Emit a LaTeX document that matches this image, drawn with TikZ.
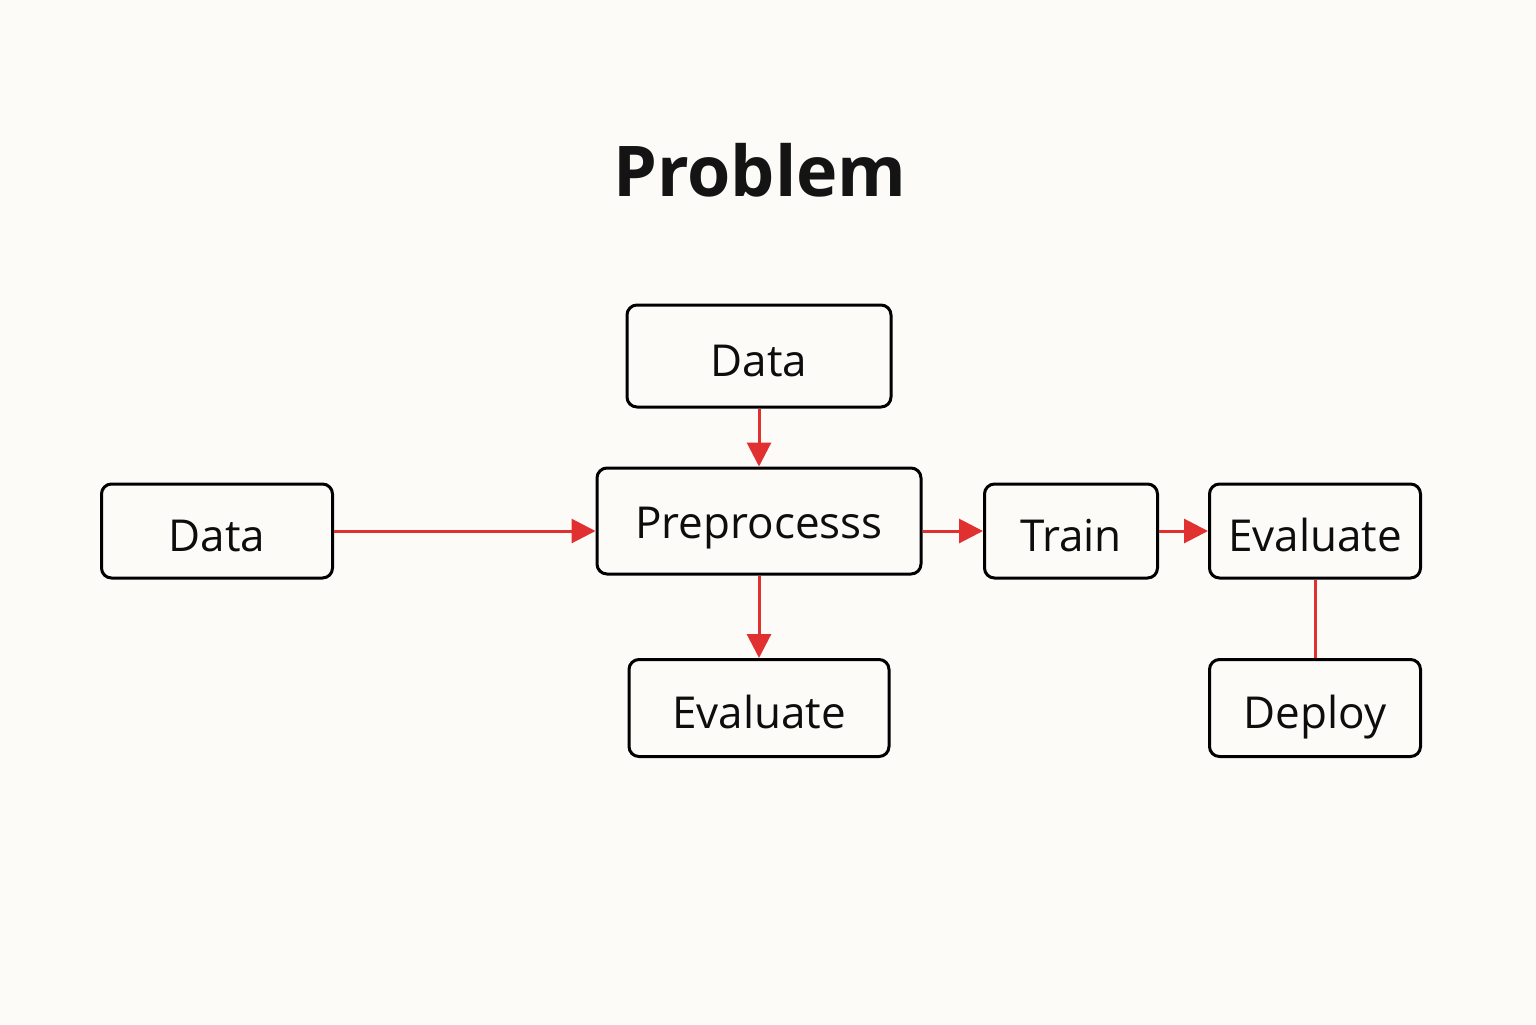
\documentclass[tikz,border=0pt]{standalone}
\usepackage{fontspec}
\setmainfont{Open Sans}
\usepackage{tikz}
\usetikzlibrary{arrows.meta,calc,positioning}
\definecolor{bgpaper}{HTML}{FCFBF8}
\definecolor{flowred}{HTML}{E0302F}

\begin{document}
\begin{tikzpicture}[x=0.5pt,y=-0.5pt]
\tikzset{stage/.style={draw=black,line width=1.5pt,rounded corners=5pt,
    inner sep=0pt,text height=21pt,text depth=1pt,
    font=\fontsize{22}{26}\selectfont,text=black!95},
  flow/.style={draw=flowred,line width=1.5pt,-{Triangle[length=12pt,width=12pt]}},
  link/.style={draw=flowred,line width=1.5pt}}
\fill[bgpaper] (0,0) rectangle (1536,1024);
\useasboundingbox (0,0) rectangle (1536,1024);

\node[font=\fontsize{35}{40}\selectfont\bfseries,text=black!92] (title) at (760,170) {Problem};

% boxes
\node[stage,minimum width=132pt,minimum height=51pt] (dtop) at (759,356) {Data};
\node[stage,minimum width=115.5pt,minimum height=47pt] (dleft) at (217,531) {Data};
\node[stage,minimum width=162pt,minimum height=53pt,text height=18pt] (prep) at (759,521) {Preprocesss};
\node[stage,minimum width=86.5pt,minimum height=47pt] (train) at (1071,531) {Train};
\node[stage,minimum width=105.5pt,minimum height=47pt] (evalr) at (1315,531) {Evaluate};
\node[stage,minimum width=130pt,minimum height=48.5pt] (evalb) at (759,708) {Evaluate};
\node[stage,minimum width=105.5pt,minimum height=48.5pt] (deploy) at (1315,708) {Deploy};

% connectors
\draw[flow] (dtop.south) -- (prep.north);
\draw[flow] (dleft.east) -- (dleft.east -| prep.west);
\draw[flow] (prep.east |- train.west) -- (train.west);
\draw[flow] (train.east) -- (evalr.west);
\draw[flow] (prep.south) -- (evalb.north);
\draw[link] (evalr.south) -- (deploy.north);

\end{tikzpicture}
\end{document}
